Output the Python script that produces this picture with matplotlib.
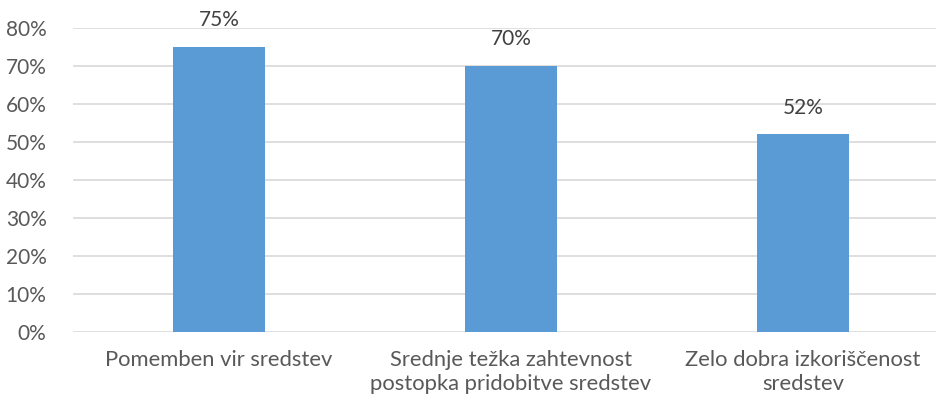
import matplotlib
matplotlib.use("Agg")
import matplotlib.pyplot as plt
from matplotlib.ticker import PercentFormatter

categories = ["Pomemben vir sredstev",
              "Srednje težka zahtevnost\npostopka pridobitve sredstev",
              "Zelo dobra izkoriščenost\nsredstev"]
values = [75, 70, 52]
yticks = [0, 10, 20, 30, 40, 50, 60, 70, 80]

plt.rcParams['font.family'] = ['Lato', 'DejaVu Sans']
W, H = 937, 401
fig = plt.figure(figsize=(W/100, H/100), dpi=100)
left, right = 73, 949
top, bottom = 28, 332
ax = fig.add_axes([left/W, 1-bottom/H, (right-left)/W, (bottom-top)/H])

x = list(range(len(categories)))
bars = ax.bar(x, values, width=0.315, color='#5b9bd5', zorder=3)
for xi, v in zip(x, values):
    ax.annotate(f"{v}%", (xi, v), xytext=(0, 12), textcoords='offset points',
                ha='center', va='bottom', fontsize=15, color='#404040')

ax.set_xlim(-0.5, len(categories)-0.5)
ax.set_ylim(0, 80)
ax.set_yticks(yticks)
ax.yaxis.set_major_formatter(PercentFormatter(decimals=0))
ax.set_xticks(x)
ax.set_xticklabels(categories, fontsize=15.8, color='#595959', linespacing=1.22)
ax.tick_params(axis='y', labelsize=15, labelcolor='#595959', length=0, pad=19)
ax.tick_params(axis='x', length=0, pad=13)
ax.grid(axis='y', color='#d9d9d9', linewidth=1.2, zorder=0)
for s in ax.spines.values():
    s.set_visible(False)

fig.savefig("out.png", dpi=100)
